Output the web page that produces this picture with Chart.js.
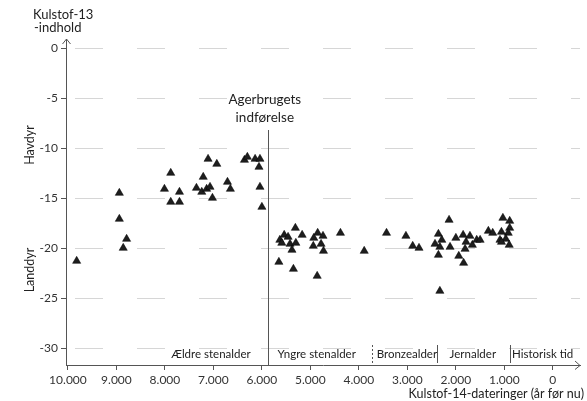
<!DOCTYPE html>
<html><head><meta charset="utf-8">
<script src="https://cdn.jsdelivr.net/npm/chart.js@4"></script>
<style>html,body{margin:0;padding:0;background:#fff}#wrap{width:587px;height:401px;position:relative}</style>
</head><body><div id="wrap"><canvas id="c" width="587" height="401"></canvas></div>
<script>
// Kulstof-14 dates (years before now) and Kulstof-13 values
const dateBP = [
  9820, 8940, 8940, 8790, 8860, 7880, 8010, 7700, 7880, 7700,
  7110, 6930, 7210, 7350, 7240, 7140, 7070, 7020, 6710, 6650,
  6360, 6300, 6140, 6040, 6060, 6040, 6000,
  5310, 5170, 5540, 5460, 5630, 5590, 5420, 5300, 5380, 5650,
  5350, 4860, 4850, 4740, 4930, 4940, 4780, 4730, 4380, 3890,
  3430, 3030, 2890, 2760,
  2360, 2290, 2430, 2330, 2360, 2120, 2000, 1850, 1790, 1710,
  1660, 1810, 1940, 1840, 1570, 1500, 2140, 2330, 1330, 1240,
  1030, 890, 890, 920, 1060, 1090, 970, 1060, 900
];
const carbon13 = [
  -21.3, -14.5, -17.1, -19.1, -20.0, -12.5, -14.1, -14.4, -15.4, -15.4,
  -11.1, -11.6, -12.9, -14.0, -14.4, -14.1, -13.9, -15.0, -13.4, -14.1,
  -11.2, -10.9, -11.1, -11.1, -11.9, -13.9, -15.9,
  -18.0, -18.7, -18.7, -18.9, -19.2, -19.5, -19.6, -19.5, -20.2, -21.4,
  -22.1, -22.8, -18.5, -18.8, -19.0, -19.8, -19.6, -20.3, -18.5, -20.3,
  -18.5, -18.8, -19.8, -20.0,
  -18.6, -19.2, -19.6, -19.9, -20.7, -19.9, -19.0, -18.7, -19.4, -18.8,
  -19.7, -20.1, -20.8, -21.5, -19.2, -19.2, -17.2, -24.3, -18.3, -18.5,
  -17.0, -17.3, -18.0, -18.5, -18.4, -19.2, -19.1, -19.4, -19.7
];
const xTicks = [10000, 9000, 8000, 7000, 6000, 5000, 4000, 3000, 2000, 1000, 0];
const yTicks = [0, -5, -10, -15, -20, -25, -30];
const eraNames = ['Ældre stenalder', 'Yngre stenalder', 'Bronzealder', 'Jernalder', 'Historisk tid'];
const eraLabelAt = [7050, 4870, 3010, 1650, 210];
const eraBounds = [3730, 2390, 890];
const agricultureBP = 5880;

const FONT = 'Lato, "Open Sans", sans-serif';
const fmt = v => v >= 1000 ? Math.floor(v / 1000) + '.' + String(v % 1000).padStart(3, '0') : String(v);

const points = dateBP.map((x, i) => ({ x, y: carbon13[i] }));

const decor = {
  id: 'decor',
  afterDraw(chart) {
    const { ctx, chartArea: a, scales: { x, y } } = chart;
    ctx.save();
    ctx.strokeStyle = '#555';
    ctx.fillStyle = '#555';
    ctx.lineWidth = 1;
    // arrows
    ctx.beginPath();
    ctx.moveTo(a.left - 3.5, a.top + 5); ctx.lineTo(a.left + 0.5, a.top); ctx.lineTo(a.left + 4.5, a.top + 5);
    ctx.moveTo(a.right - 5, a.bottom - 4); ctx.lineTo(a.right, a.bottom + 0.5); ctx.lineTo(a.right - 5, a.bottom + 4.5);
    ctx.stroke();
    // agriculture line
    const ax = Math.round(x.getPixelForValue(agricultureBP)) + 0.5;
    ctx.beginPath();
    ctx.moveTo(ax, y.getPixelForValue(-8.2));
    ctx.lineTo(ax, a.bottom);
    ctx.stroke();
    // era separators
    eraBounds.forEach((b, i) => {
      const bx = Math.round(x.getPixelForValue(b)) + 0.5;
      ctx.beginPath();
      if (i === 0) ctx.setLineDash([2, 2]); else ctx.setLineDash([]);
      ctx.moveTo(bx, y.getPixelForValue(-29.7));
      ctx.lineTo(bx, a.bottom - 2);
      ctx.stroke();
    });
    ctx.setLineDash([]);
    // era labels
    ctx.fillStyle = '#222';
    ctx.font = '11.5px ' + FONT;
    ctx.textAlign = 'center';
    ctx.textBaseline = 'middle';
    eraNames.forEach((n, i) => ctx.fillText(n, x.getPixelForValue(eraLabelAt[i]), y.getPixelForValue(-30.6)));
    // agriculture label
    ctx.font = '13.5px ' + FONT;
    ctx.fillText('Agerbrugets', x.getPixelForValue(5940), y.getPixelForValue(-5.2));
    ctx.fillText('indførelse', x.getPixelForValue(5940), y.getPixelForValue(-7.0));
    // x axis caption
    ctx.font = '12.5px ' + FONT;
    ctx.textAlign = 'right';
    ctx.fillText('Kulstof-14-dateringer (år før nu)', 584, 394);
    // y axis caption
    ctx.textAlign = 'left';
    ctx.font = '13px ' + FONT;
    ctx.fillText('Kulstof-13', 33, 15);
    ctx.fillText('-indhold', 34, 28);
    // rotated
    ctx.font = '12.5px ' + FONT;
    ctx.textAlign = 'center';
    [['Havdyr', -9.7], ['Landdyr', -22.2]].forEach(([t, v]) => {
      ctx.save();
      ctx.translate(30, y.getPixelForValue(v));
      ctx.rotate(-Math.PI / 2);
      ctx.fillText(t, 0, 0);
      ctx.restore();
    });
    ctx.restore();
  }
};

new Chart(document.getElementById('c'), {
  type: 'scatter',
  data: {
    datasets: [{
      data: points,
      pointStyle: 'triangle',
      pointRadius: 4.7,
      pointHoverRadius: 4.7,
      backgroundColor: '#1e1e1e',
      borderColor: '#000',
      borderWidth: 0.5
    }]
  },
  options: {
    responsive: false,
    devicePixelRatio: 1,
    animation: false,
    events: [],
    layout: { padding: { top: 39, right: 7, left: 0, bottom: 0 } },
    plugins: { legend: { display: false }, tooltip: { enabled: false } },
    scales: {
      x: {
        type: 'linear',
        reverse: true,
        min: -560,
        max: 10040,
        afterBuildTicks: s => { s.ticks = xTicks.map(v => ({ value: v })); },
        afterFit: s => { s.height = 36; },
        ticks: { callback: v => fmt(v), color: '#333', font: { family: FONT, size: 12 }, padding: 3, maxRotation: 0, autoSkip: false },
        grid: { drawOnChartArea: false, drawTicks: true, tickLength: 5, tickColor: '#555' },
        border: { color: '#555', width: 1 }
      },
      y: {
        type: 'linear',
        min: -31.7,
        max: 0.9,
        afterBuildTicks: s => { s.ticks = yTicks.map(v => ({ value: v })); },
        afterFit: s => { s.width = 66; },
        ticks: { color: '#333', font: { family: FONT, size: 12 }, padding: 3 },
        grid: { color: 'rgba(0,0,0,0.16)', lineWidth: 1, tickLength: 5, tickColor: '#555' },
        border: { color: '#555', width: 1, dash: [28, 34], dashOffset: -8 }
      }
    }
  },
  plugins: [decor]
});
</script>
</body></html>
